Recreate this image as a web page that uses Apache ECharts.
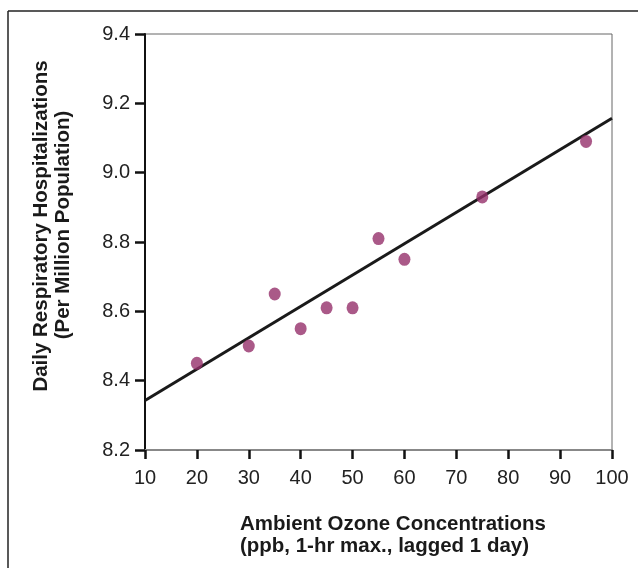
<!DOCTYPE html>
<html>
<head>
<meta charset="utf-8">
<style>
  html, body { margin: 0; padding: 0; background: #fff; }
  #chart { width: 638px; height: 568px; }
</style>
<script src="https://cdn.jsdelivr.net/npm/echarts@6/dist/echarts.min.js"></script>
</head>
<body>
<div id="chart"></div>
<script>
// Observed data: ozone concentration (ppb) vs daily respiratory hospitalizations
var ozone = [20, 30, 35, 40, 45, 50, 55, 60, 75, 95];
var hospitalizations = [8.45, 8.50, 8.65, 8.55, 8.61, 8.61, 8.81, 8.75, 8.93, 9.09];
// Fitted regression line endpoints
var fitX = [10, 100];
var fitY = [8.343, 9.157];
// Axis settings
var xTicks = [10, 20, 30, 40, 50, 60, 70, 80, 90, 100];
var yTicks = [8.2, 8.4, 8.6, 8.8, 9.0, 9.2, 9.4];
var xTitle = ['Ambient Ozone Concentrations', '(ppb, 1-hr max., lagged 1 day)'];
var yTitle = ['Daily Respiratory Hospitalizations', '(Per Million Population)'];

var scatterData = ozone.map(function (x, i) { return [x, hospitalizations[i]]; });
var lineData = fitX.map(function (x, i) { return [x, fitY[i]]; });

var FONT = '"Liberation Sans", Arial, sans-serif';
var TITLE_FONT = 'bold 21px ' + FONT;
var chart = echarts.init(document.getElementById('chart'), null, { renderer: 'canvas' });
chart.setOption({
  animation: false,
  backgroundColor: '#ffffff',
  grid: {
    left: 145, right: 26, top: 34, bottom: 118,
    show: true, borderColor: '#666', borderWidth: 1, backgroundColor: 'transparent'
  },
  xAxis: {
    type: 'value',
    min: xTicks[0], max: xTicks[xTicks.length - 1], interval: 10,
    axisLine: { show: true, onZero: false, lineStyle: { color: '#888', width: 2 } },
    axisTick: { show: true, inside: false, length: 9, lineStyle: { color: '#111', width: 2.5 } },
    axisLabel: { color: '#222', fontSize: 20, fontFamily: FONT, margin: 18 },
    splitLine: { show: false }
  },
  yAxis: {
    type: 'value',
    min: yTicks[0], max: yTicks[yTicks.length - 1], interval: 0.2,
    axisLine: { show: true, onZero: false, lineStyle: { color: '#111', width: 2 } },
    axisTick: { show: true, inside: false, length: 10, lineStyle: { color: '#111', width: 2.5 } },
    axisLabel: {
      color: '#222', fontSize: 20, fontFamily: FONT, margin: 15,
      formatter: function (v) { return v.toFixed(1); }
    },
    splitLine: { show: false }
  },
  series: [
    {
      type: 'line',
      data: lineData,
      symbol: 'none',
      lineStyle: { color: '#1a1a1a', width: 3 },
      z: 2
    },
    {
      type: 'scatter',
      data: scatterData,
      symbol: 'circle',
      symbolSize: [12, 13],
      itemStyle: { color: '#95306a' },
      z: 3
    }
  ],
  graphic: [
    { type: 'line', shape: { x1: 8, y1: 11, x2: 638, y2: 11 }, style: { stroke: '#222', lineWidth: 1.5 } },
    { type: 'line', shape: { x1: 8, y1: 11, x2: 8, y2: 568 }, style: { stroke: '#222', lineWidth: 1.5 } },
    {
      type: 'text', x: 240, y: 524, scaleX: 0.975,
      style: { text: xTitle[0], font: TITLE_FONT, fill: '#1a1a1a', textAlign: 'left', textVerticalAlign: 'middle' }
    },
    {
      type: 'text', x: 240, y: 546, scaleX: 0.975,
      style: { text: xTitle[1], font: TITLE_FONT, fill: '#1a1a1a', textAlign: 'left', textVerticalAlign: 'middle' }
    },
    {
      type: 'text', x: 41, y: 226, rotation: Math.PI / 2, scaleX: 0.975,
      style: { text: yTitle[0], font: TITLE_FONT, fill: '#1a1a1a', textAlign: 'center', textVerticalAlign: 'middle' }
    },
    {
      type: 'text', x: 63, y: 225, rotation: Math.PI / 2, scaleX: 0.975,
      style: { text: yTitle[1], font: TITLE_FONT, fill: '#1a1a1a', textAlign: 'center', textVerticalAlign: 'middle' }
    }
  ]
});
</script>
</body>
</html>
